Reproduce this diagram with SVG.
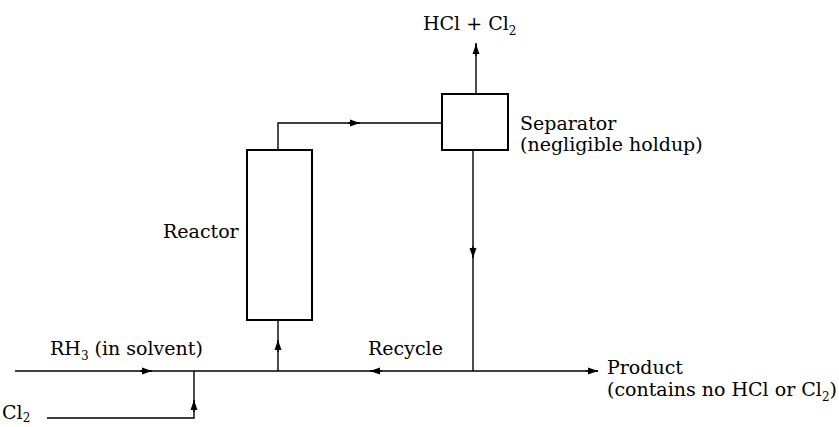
<svg xmlns="http://www.w3.org/2000/svg" width="839" height="427" viewBox="0 0 839 427">
<defs>
<style>
.ln{fill:none;stroke:#000;stroke-width:1.4}
.bx{fill:#fff;stroke:#000;stroke-width:2}
.t{font-family:"DejaVu Serif","Liberation Serif",serif;font-size:19px;fill:#000}
.s{font-size:12px}
</style>
<marker id="ah" viewBox="0 0 10 8" refX="10" refY="4" markerWidth="10" markerHeight="8" markerUnits="userSpaceOnUse" orient="auto">
<path d="M0,0.5 L10,4 L0,7.5 Z" fill="#000"/>
</marker>
</defs>
<rect width="839" height="427" fill="#fff"/>
<g id="connectors">
<path class="ln" d="M15,371 H598"/>
<path class="ln" d="M47,418 H194 V371"/>
<path class="ln" d="M278,371 V320"/>
<path class="ln" d="M278,150 V123 H442"/>
<path class="ln" d="M476,94 V43"/>
<path class="ln" d="M473,150 V371"/>
<path class="ln" d="M140,371 H152" marker-end="url(#ah)"/>
<path class="ln" d="M194,412 V400" marker-end="url(#ah)"/>
<path class="ln" d="M278,352 V340" marker-end="url(#ah)"/>
<path class="ln" d="M348,123 H360" marker-end="url(#ah)"/>
<path class="ln" d="M476,56 V44" marker-end="url(#ah)"/>
<path class="ln" d="M473,246 V258" marker-end="url(#ah)"/>
<path class="ln" d="M382,371 H370" marker-end="url(#ah)"/>
<path class="ln" d="M586,371 H598" marker-end="url(#ah)"/>
</g>
<g id="reactor">
<rect class="bx" x="247" y="150" width="65" height="170"/>
<text class="t" x="163" y="238">Reactor</text>
</g>
<g id="separator">
<rect class="bx" x="442" y="94" width="66" height="56"/>
<text class="t" x="520" y="130">Separator</text>
<text class="t" x="520" y="151">(negligible holdup)</text>
</g>
<g id="vent">
<text class="t" x="423" y="30">HCl + Cl<tspan class="s" dy="5">2</tspan></text>
</g>
<g id="feed-rh3">
<text class="t" x="50" y="355">RH<tspan class="s" dy="5">3</tspan><tspan dy="-5"> (in solvent)</tspan></text>
</g>
<g id="feed-cl2">
<text class="t" x="2" y="419">Cl<tspan class="s" dy="3">2</tspan></text>
</g>
<g id="recycle">
<text class="t" x="368" y="355">Recycle</text>
</g>
<g id="product">
<text class="t" x="607" y="374">Product</text>
<text class="t" x="607" y="396">(contains no HCl or Cl<tspan class="s" dy="5">2</tspan><tspan dy="-5">)</tspan></text>
</g>
</svg>
